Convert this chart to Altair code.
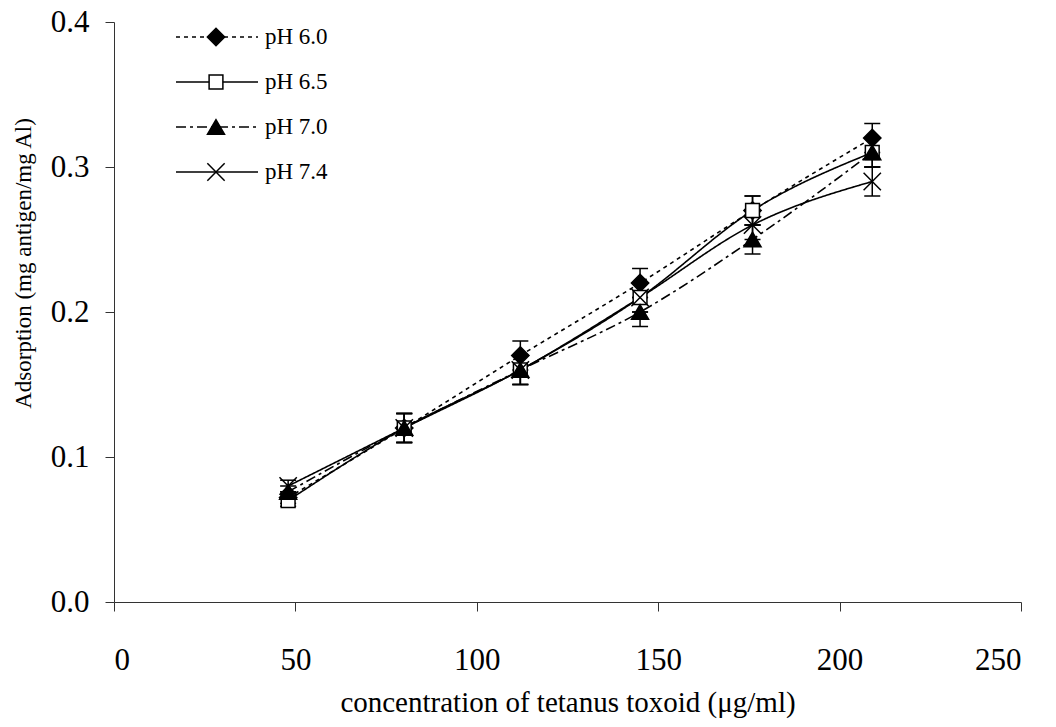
import altair as alt
import pandas as pd

conc = [48, 80, 112, 145, 176, 209]
series = ["pH 6.0", "pH 6.5", "pH 7.0", "pH 7.4"]
ph60 = [0.072, 0.12, 0.17, 0.22, 0.27, 0.32]
ph65 = [0.070, 0.12, 0.16, 0.21, 0.27, 0.31]
ph70 = [0.076, 0.12, 0.16, 0.20, 0.25, 0.31]
ph74 = [0.080, 0.12, 0.16, 0.21, 0.26, 0.29]
err60 = [0.004, 0.01, 0.01, 0.01, 0.01, 0.01]
err65 = [0.004, 0.01, 0.01, 0.01, 0.01, 0.01]
err70 = [0.004, 0.01, 0.01, 0.01, 0.01, 0.01]
err74 = [0.004, 0.01, 0.01, 0.01, 0.01, 0.01]

x_ticks = [0, 50, 100, 150, 200, 250]
y_ticks = [0.0, 0.1, 0.2, 0.3, 0.4]

rows = []
for name, vals, errs in zip(series, [ph60, ph65, ph70, ph74], [err60, err65, err70, err74]):
    for c, v, e in zip(conc, vals, errs):
        rows.append({"series": name, "conc": c, "ads": v, "lo": v - e, "hi": v + e})
df = pd.DataFrame(rows)
leg_df = pd.DataFrame({"series": series})

FONT = "Liberation Serif"
X_PATH = "M-1,-1L1,1M-1,1L1,-1"

dash_scale = alt.Scale(domain=series, range=[[4, 4], [1, 0], [10, 4, 3, 4], [1, 0]])
shape_scale = alt.Scale(domain=series, range=["diamond", "square", "triangle-up", X_PATH])
fill_scale = alt.Scale(domain=series, range=["black", "white", "black", "black"])
size_scale = alt.Scale(type="ordinal", domain=series, range=[300, 190, 290, 300])

xenc = alt.X("conc:Q", scale=alt.Scale(domain=[0, 250], nice=False),
             axis=alt.Axis(values=x_ticks, title="concentration of tetanus toxoid (μg/ml)",
                           format="d", tickSize=9, labelPadding=34, labelFontSize=31,
                           titleFontSize=29, titlePadding=13))
yenc = alt.Y("ads:Q", scale=alt.Scale(domain=[0, 0.4], nice=False),
             axis=alt.Axis(values=y_ticks, title="Adsorption (mg antigen/mg Al)",
                           format=".1f", tickSize=9, labelPadding=16, labelFontSize=31,
                           titleFontSize=23, titleX=-91, titleY=241, titleAngle=-90,
                           titleAlign="center", titleBaseline="middle"))

base = alt.Chart(df)
lines = base.mark_line(color="black", strokeWidth=1.6, interpolate="monotone").encode(
    x=xenc, y=yenc,
    strokeDash=alt.StrokeDash("series:N", scale=dash_scale, legend=None),
    detail="series:N",
)
errs = base.mark_rule(color="black", strokeWidth=1.5).encode(x="conc:Q", y="lo:Q", y2="hi:Q")
cap_lo = base.mark_point(shape="M-1,0L1,0", size=256, color="black", strokeWidth=1.5,
                         filled=False, opacity=1).encode(x="conc:Q", y="lo:Q")
cap_hi = base.mark_point(shape="M-1,0L1,0", size=256, color="black", strokeWidth=1.5,
                         filled=False, opacity=1).encode(x="conc:Q", y="hi:Q")
pts = base.mark_point(stroke="black", strokeWidth=1.5, opacity=1, fillOpacity=1).encode(
    x="conc:Q", y="ads:Q",
    shape=alt.Shape("series:N", scale=shape_scale, legend=None),
    fill=alt.Fill("series:N", scale=fill_scale, legend=None),
    size=alt.Size("series:N", scale=size_scale, legend=None),
)
main = alt.layer(lines, errs, cap_lo, cap_hi, pts)

leg_y = alt.Y("series:N", scale=alt.Scale(type="point", domain=series, range=[15, 150], padding=0),
              axis=None)
leg_base = alt.Chart(leg_df)
leg_rules = leg_base.mark_rule(color="black", strokeWidth=1.6).encode(
    x=alt.value(62), x2=alt.value(144), y=leg_y,
    strokeDash=alt.StrokeDash("series:N", scale=dash_scale, legend=None),
)
leg_pts = leg_base.mark_point(stroke="black", strokeWidth=1.5, opacity=1, fillOpacity=1).encode(
    x=alt.value(102), y=leg_y,
    shape=alt.Shape("series:N", scale=shape_scale, legend=None),
    fill=alt.Fill("series:N", scale=fill_scale, legend=None),
    size=alt.Size("series:N", scale=size_scale, legend=None),
)
leg_text = leg_base.mark_text(align="left", baseline="middle", font=FONT, fontSize=23,
                              color="black").encode(x=alt.value(151), y=leg_y, text="series:N")
legend = alt.layer(leg_rules, leg_pts, leg_text)

chart = alt.layer(main, legend).resolve_scale(y="independent").properties(
    width=907, height=580,
    autosize=alt.AutoSizeParams(type="none"),
    padding={"left": 114, "top": 22, "right": 35, "bottom": 125},
    background="white",
).configure_view(stroke=None).configure_axis(
    grid=False, domainColor="#333", tickColor="#333", domainWidth=1, tickWidth=1,
    labelFont=FONT, titleFont=FONT, labelColor="black", titleColor="black",
    titleFontWeight="normal",
)

chart.save("out.html", embed_options={"renderer": "svg", "actions": False})
